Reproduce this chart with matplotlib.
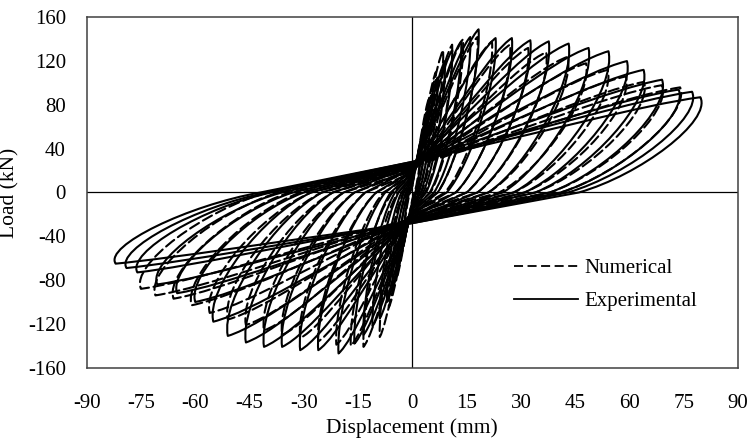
import matplotlib
matplotlib.use("Agg")
import matplotlib.pyplot as plt
from matplotlib.path import Path
from matplotlib.patches import PathPatch
from matplotlib.lines import Line2D

plt.rcParams['font.family'] = ['Liberation Serif', 'DejaVu Serif']
plt.rcParams['axes.unicode_minus'] = False

# experimental cycles: positive peak, residual disp on unloading, negative peak, residual, pinch load at d=0
exp_pos_disp = [2.5, 4, 5.5, 7, 9, 11, 13.5, 16, 18.3, 23, 27.5, 32.6, 37.7, 43.2, 48.7, 54.2, 59.3, 63.9, 69, 73.6, 77.3, 79.6]
exp_pos_load = [45, 70, 90, 105, 120, 130, 138, 142, 149, 141, 141, 139, 138, 136, 132, 129, 120, 112, 103, 94, 92, 87]
exp_pos_res = [0.8, 1.2, 1.8, 2.3, 3, 3.8, 4.8, 6, 7, 9.5, 12, 15, 18, 21, 25, 28, 31, 34, 38, 41, 43, 46]
exp_neg_disp = [-2.5, -4, -5.5, -7, -9, -11, -13.5, -16, -20.4, -26, -31, -36, -41, -46, -51, -55, -60, -65, -70.5, -76, -79, -82]
exp_neg_load = [-45, -68, -88, -100, -115, -122, -130, -138, -147, -144, -144, -141, -141, -137, -131, -118, -100, -92, -84, -73, -69, -65]
exp_neg_res = [-0.8, -1.2, -1.8, -2.3, -3, -3.8, -4.8, -6, -7.5, -10, -13, -16, -19, -22, -25, -28, -30, -33, -36, -39, -40, -42]
exp_pinch = [8, 10, 12, 14, 15, 16, 18, 18, 20, 20, 22, 22, 24, 24, 25, 25, 26, 26, 27, 27, 28, 28]

# numerical cycles
num_pos_disp = [2.5, 4.5, 6.5, 8.5, 11, 14, 18, 22, 27, 32, 37, 43, 48, 54, 59, 64, 69, 74]
num_pos_load = [50, 85, 110, 130, 135, 140, 142, 138, 135, 132, 128, 124, 118, 112, 106, 101, 98, 96]
num_pos_res = [0.6, 1, 1.5, 2.5, 3.5, 5, 7, 9, 12, 15, 18, 21, 24, 28, 31, 34, 38, 41]
num_neg_disp = [-2.5, -4.5, -6.5, -9, -13.5, -17, -21, -26, -31, -36, -41, -46, -51, -56, -61, -66, -71, -75]
num_neg_load = [-48, -80, -105, -132, -141, -140, -139, -136, -133, -130, -126, -121, -116, -110, -103, -97, -94, -88]
num_neg_res = [-0.6, -1, -1.5, -2.5, -4, -5.5, -8, -10, -13, -16, -19, -22, -25, -28, -31, -34, -37, -40]
num_pinch = [6, 8, 10, 12, 14, 15, 16, 18, 18, 20, 20, 22, 22, 22, 24, 24, 24, 24]

x_ticks = list(range(-90, 91, 15))
y_ticks = list(range(-160, 161, 40))


def loop_path(dp, fp, rp, dn, fn, rn, pinch):
    # one pinched cycle: reload -> positive peak -> unload -> negative peak -> unload
    verts = [
        (0, pinch),
        (0.45 * dp, pinch + 0.45 * (fp - pinch)), (0.8 * dp, 0.92 * fp), (dp, fp),
        (1.04 * dp, 0.75 * fp), (rp + 0.5 * (dp - rp), 0.18 * fp), (rp, 0),
        (0, -pinch),
        (0.45 * dn, -pinch + 0.45 * (fn + pinch)), (0.8 * dn, 0.92 * fn), (dn, fn),
        (1.04 * dn, 0.75 * fn), (rn + 0.5 * (dn - rn), 0.18 * fn), (rn, 0),
        (0, pinch),
    ]
    codes = [Path.MOVETO] + [Path.CURVE4] * 6 + [Path.LINETO] + [Path.CURVE4] * 6 + [Path.LINETO]
    return Path(verts, codes)


fig = plt.figure(figsize=(7.5, 4.43), dpi=100)
ax = fig.add_axes([0.1156, 0.170, 0.8684, 0.791])

dash = (0, (5, 2.2))
for i in range(len(num_pos_disp)):
    p = loop_path(num_pos_disp[i], num_pos_load[i], num_pos_res[i],
                  num_neg_disp[i], num_neg_load[i], num_neg_res[i], num_pinch[i])
    ax.add_patch(PathPatch(p, fill=False, edgecolor='black', lw=1.5, linestyle=dash,
                           joinstyle='round', capstyle='round'))

for i in range(len(exp_pos_disp)):
    p = loop_path(exp_pos_disp[i], exp_pos_load[i], exp_pos_res[i],
                  exp_neg_disp[i], exp_neg_load[i], exp_neg_res[i], exp_pinch[i])
    ax.add_patch(PathPatch(p, fill=False, edgecolor='black', lw=1.5, joinstyle='round'))

ax.axhline(0, color='black', lw=0.9, zorder=0.5)
ax.axvline(0, color='black', lw=0.9, zorder=0.5)

ax.set_xlim(-90, 90)
ax.set_ylim(-160, 160)
ax.set_xticks(x_ticks)
ax.set_yticks(y_ticks)
ax.tick_params(axis='both', length=0, labelsize=15)
ax.tick_params(axis='x', pad=19)
ax.tick_params(axis='y', pad=15)
for s in ax.spines.values():
    s.set_color('#404040')
    s.set_linewidth(1.1)

ax.set_xlabel('Displacement (mm)', fontsize=15.5)
ax.xaxis.set_label_coords(0.5, -0.143)
ax.set_ylabel('Load (kN)', fontsize=15.5)
ax.yaxis.set_label_coords(-0.103, 0.5)

handles = [Line2D([], [], color='black', lw=1.3, linestyle=(0, (5, 2.5))),
           Line2D([], [], color='black', lw=1.3)]
ax.legend(handles, ['Numerical', 'Experimental'], frameon=False, fontsize=15,
          handlelength=3.1, handletextpad=0.3, labelspacing=0.64,
          loc='upper left', bbox_to_anchor=(0.643, 0.335), borderaxespad=0)

fig.savefig('out.png', dpi=100)
